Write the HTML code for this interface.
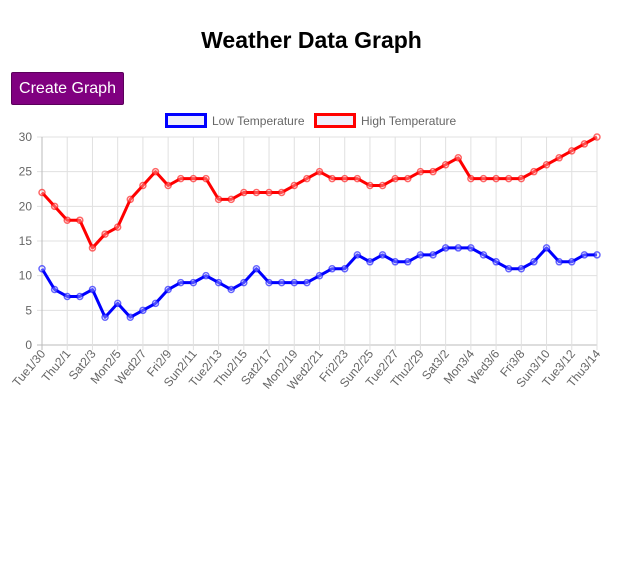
<!DOCTYPE html>
<html><head><meta charset="utf-8"><style>
body{margin:0;background:#fff;width:623px;height:572px;overflow:hidden;font-family:"Liberation Sans",sans-serif}
h1{position:absolute;left:0;width:623px;top:27px;margin:0;text-align:center;font-size:23px;font-weight:bold;color:#000}
button{position:absolute;left:11px;top:72px;width:113px;height:33px;background:#800080;color:#fff;border:1px solid #5a005a;border-radius:2px;font-family:"Liberation Sans",sans-serif;font-size:16px;padding:0}
svg{position:absolute;left:0;top:0}
</style></head><body>
<h1>Weather Data Graph</h1>
<button>Create Graph</button>
<svg id="c" width="623" height="572"></svg>
<script>
const categories=["Tue1/30","Wed1/31","Thu2/1","Fri2/2","Sat2/3","Sun2/4","Mon2/5","Tue2/6","Wed2/7","Thu2/8","Fri2/9","Sat2/10","Sun2/11","Mon2/12","Tue2/13","Wed2/14","Thu2/15","Fri2/16","Sat2/17","Sun2/18","Mon2/19","Tue2/20","Wed2/21","Thu2/22","Fri2/23","Sat2/24","Sun2/25","Mon2/26","Tue2/27","Wed2/28","Thu2/29","Fri3/1","Sat3/2","Sun3/3","Mon3/4","Tue3/5","Wed3/6","Thu3/7","Fri3/8","Sat3/9","Sun3/10","Mon3/11","Tue3/12","Wed3/13","Thu3/14"];
const lowTemps=[11,8,7,7,8,4,6,4,5,6,8,9,9,10,9,8,9,11,9,9,9,9,10,11,11,13,12,13,12,12,13,13,14,14,14,13,12,11,11,12,14,12,12,13,13];
const highTemps=[22,20,18,18,14,16,17,21,23,25,23,24,24,24,21,21,22,22,22,22,23,24,25,24,24,24,23,23,24,24,25,25,26,27,24,24,24,24,24,25,26,27,28,29,30];
const yTicks=[0,5,10,15,20,25,30];
const NS="http://www.w3.org/2000/svg";
const svg=document.getElementById('c');
const x0=42,x1=597,yTop=137,yBot=345,yMax=30;
const xs=i=>x0+i*(x1-x0)/(categories.length-1);
const ys=v=>yBot-v*(yBot-yTop)/yMax;
function mk(t,a){const e=document.createElementNS(NS,t);for(const k in a)e.setAttribute(k,a[k]);svg.appendChild(e);return e;}
yTicks.forEach(v=>{
  const l=mk('line',{x1:x0-5,x2:x1,y1:ys(v),y2:ys(v),stroke:v===0?'#bbb':'#e0e0e0','stroke-width':1});
  
  
  const t=mk('text',{x:x0-10,y:ys(v)+4,'text-anchor':'end','font-size':12,fill:'#666'});
  t.textContent=v;
  
  
});
categories.forEach((c,i)=>{
  if(i%2)return;
  const x=xs(i);
  const l=mk('line',{x1:x,x2:x,y1:yTop,y2:yBot+5,stroke:i===0?'#bbb':'#e0e0e0','stroke-width':1});
  
  
  const t=mk('text',{x:x+4,y:yBot+9,'text-anchor':'end','font-size':12,fill:'#666',transform:`rotate(-50 ${x+4} ${yBot+9})`});
  t.textContent=c;
  
  
});
function series(data,color,name){
  const p=mk('polyline',{points:data.map((v,i)=>xs(i)+','+ys(v)).join(' '),fill:'none',stroke:color,'stroke-width':3,'stroke-linejoin':'round'});
  
  
  data.forEach((v,i)=>{
    const c=mk('circle',{cx:xs(i),cy:ys(v),r:3,fill:'rgba(255,255,255,0.3)',stroke:color,'stroke-opacity':0.6,'stroke-width':1.5});
    
    
  });
}
series(lowTemps,'#0000ff','low-temperature');
series(highTemps,'#ff0000','high-temperature');
[[165,'#0000ff','Low Temperature','legend-low'],[314,'#ff0000','High Temperature','legend-high']].forEach(([x,col,txt,n])=>{
  const r=mk('rect',{x:x+1.5,y:114.5,width:39,height:12,fill:'#eeeefa',stroke:col,'stroke-width':3});
  
  
  const t=mk('text',{x:x+47,y:125,'font-size':12,fill:'#666'});
  t.textContent=txt;
  
  
});
</script>
</body></html>
